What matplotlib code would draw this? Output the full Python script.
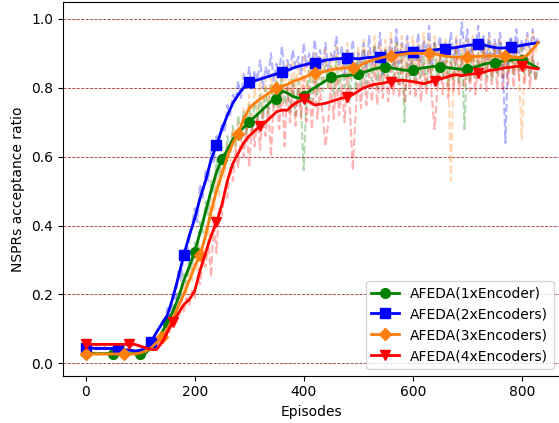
import numpy as np
import matplotlib
matplotlib.use("Agg")
import matplotlib.pyplot as plt

# smoothed curves, one point every 10 episodes (0..830)
SMOOTH_STEP = 10
green_smooth = [
    0.03, 0.029, 0.028, 0.028, 0.028, 0.028, 0.028, 0.028, 0.028, 0.028,
    0.028, 0.03, 0.045, 0.065, 0.09, 0.12, 0.15, 0.19, 0.24, 0.28,
    0.324, 0.38, 0.44, 0.50, 0.555, 0.592, 0.62, 0.65, 0.67, 0.685,
    0.70, 0.715, 0.73, 0.745, 0.76, 0.767, 0.79, 0.785, 0.775, 0.77,
    0.775, 0.79, 0.80, 0.81, 0.82, 0.83, 0.832, 0.835, 0.835, 0.838,
    0.84, 0.845, 0.85, 0.855, 0.858, 0.86, 0.858, 0.855, 0.852, 0.85,
    0.852, 0.855, 0.858, 0.86, 0.862, 0.861, 0.86, 0.857, 0.855, 0.854,
    0.854, 0.858, 0.863, 0.868, 0.872, 0.873, 0.876, 0.878, 0.88, 0.882,
    0.881, 0.875, 0.865, 0.857]
blue_smooth = [
    0.045, 0.044, 0.043, 0.043, 0.043, 0.043, 0.042, 0.04, 0.038, 0.036,
    0.037, 0.045, 0.062, 0.09, 0.115, 0.14, 0.19, 0.25, 0.314, 0.37,
    0.42, 0.48, 0.53, 0.59, 0.634, 0.68, 0.72, 0.755, 0.78, 0.80,
    0.816, 0.82, 0.825, 0.83, 0.835, 0.84, 0.847, 0.85, 0.857, 0.862,
    0.866, 0.87, 0.873, 0.876, 0.88, 0.882, 0.884, 0.885, 0.886, 0.885,
    0.884, 0.886, 0.888, 0.889, 0.89, 0.893, 0.897, 0.90, 0.902, 0.903,
    0.903, 0.905, 0.907, 0.908, 0.91, 0.912, 0.913, 0.915, 0.917, 0.92,
    0.923, 0.925, 0.927, 0.925, 0.92, 0.917, 0.915, 0.916, 0.918, 0.92,
    0.923, 0.926, 0.928, 0.931]
orange_smooth = [
    0.027, 0.027, 0.027, 0.027, 0.027, 0.027, 0.027, 0.027, 0.027, 0.027,
    0.03, 0.035, 0.045, 0.06, 0.075, 0.10, 0.13, 0.165, 0.20, 0.24,
    0.28, 0.314, 0.37, 0.44, 0.50, 0.55, 0.60, 0.64, 0.666, 0.71,
    0.74, 0.755, 0.767, 0.778, 0.788, 0.798, 0.805, 0.81, 0.818, 0.824,
    0.83, 0.836, 0.842, 0.845, 0.848, 0.852, 0.855, 0.857, 0.858, 0.858,
    0.862, 0.87, 0.877, 0.882, 0.886, 0.89, 0.892, 0.895, 0.897, 0.899,
    0.90, 0.90, 0.90, 0.90, 0.898, 0.895, 0.892, 0.89, 0.888, 0.889,
    0.89, 0.89, 0.891, 0.892, 0.893, 0.892, 0.891, 0.892, 0.89, 0.888,
    0.887, 0.895, 0.912, 0.931]
red_smooth = [
    0.055, 0.055, 0.055, 0.055, 0.055, 0.055, 0.055, 0.055, 0.055, 0.055,
    0.05, 0.045, 0.04, 0.04, 0.06, 0.09, 0.12, 0.145, 0.17, 0.185,
    0.21, 0.27, 0.32, 0.37, 0.409, 0.46, 0.53, 0.58, 0.61, 0.64,
    0.66, 0.675, 0.689, 0.70, 0.715, 0.73, 0.735, 0.735, 0.75, 0.76,
    0.766, 0.76, 0.75, 0.752, 0.755, 0.76, 0.765, 0.77, 0.772, 0.78,
    0.79, 0.80, 0.805, 0.81, 0.812, 0.815, 0.818, 0.82, 0.822, 0.82,
    0.818, 0.815, 0.812, 0.816, 0.82, 0.825, 0.83, 0.835, 0.838, 0.835,
    0.838, 0.84, 0.842, 0.845, 0.85, 0.852, 0.855, 0.858, 0.86, 0.862,
    0.863, 0.86, 0.857, 0.855]

# raw (unsmoothed) values, one point every 5 episodes (0..830)
RAW_STEP = 5
green_raw = [
    0.03, 0.025, 0.03, 0.028, 0.025, 0.03, 0.028, 0.025, 0.03, 0.028,
    0.025, 0.03, 0.028, 0.025, 0.03, 0.028, 0.025, 0.03, 0.027, 0.025,
    0.03, 0.028, 0.035, 0.04, 0.05, 0.055, 0.07, 0.065, 0.10, 0.08,
    0.14, 0.11, 0.17, 0.15, 0.21, 0.18, 0.26, 0.23, 0.30, 0.27,
    0.35, 0.31, 0.41, 0.38, 0.47, 0.43, 0.53, 0.49, 0.59, 0.54,
    0.63, 0.57, 0.66, 0.61, 0.69, 0.63, 0.72, 0.65, 0.73, 0.66,
    0.75, 0.67, 0.76, 0.70, 0.78, 0.71, 0.80, 0.72, 0.81, 0.74,
    0.82, 0.74, 0.84, 0.75, 0.80, 0.73, 0.83, 0.72, 0.82, 0.74,
    0.56, 0.77, 0.85, 0.76, 0.87, 0.78, 0.86, 0.79, 0.88, 0.80,
    0.87, 0.78, 0.89, 0.79, 0.86, 0.80, 0.90, 0.77, 0.88, 0.79,
    0.89, 0.80, 0.91, 0.81, 0.88, 0.82, 0.92, 0.80, 0.90, 0.81,
    0.91, 0.82, 0.89, 0.83, 0.93, 0.81, 0.90, 0.70, 0.91, 0.82,
    0.90, 0.81, 0.92, 0.83, 0.89, 0.80, 0.91, 0.82, 0.93, 0.81,
    0.90, 0.83, 0.92, 0.80, 0.89, 0.82, 0.91, 0.81, 0.90, 0.68,
    0.91, 0.82, 0.93, 0.83, 0.90, 0.84, 0.92, 0.83, 0.94, 0.82,
    0.92, 0.84, 0.93, 0.83, 0.91, 0.85, 0.94, 0.84, 0.92, 0.85,
    0.93, 0.84, 0.90, 0.83, 0.89, 0.82, 0.86]
blue_raw = [
    0.045, 0.04, 0.05, 0.045, 0.04, 0.045, 0.05, 0.04, 0.045, 0.04,
    0.045, 0.04, 0.04, 0.045, 0.035, 0.04, 0.035, 0.04, 0.035, 0.04,
    0.035, 0.04, 0.05, 0.06, 0.065, 0.08, 0.09, 0.10, 0.12, 0.11,
    0.16, 0.13, 0.21, 0.18, 0.27, 0.24, 0.33, 0.30, 0.36, 0.40,
    0.45, 0.41, 0.52, 0.48, 0.56, 0.53, 0.62, 0.58, 0.66, 0.64,
    0.70, 0.67, 0.75, 0.72, 0.78, 0.76, 0.82, 0.77, 0.84, 0.80,
    0.86, 0.79, 0.85, 0.82, 0.88, 0.80, 0.86, 0.83, 0.90, 0.82,
    0.87, 0.84, 0.92, 0.83, 0.88, 0.85, 0.91, 0.86, 0.89, 0.84,
    0.93, 0.86, 0.90, 0.85, 0.94, 0.87, 0.91, 0.86, 0.93, 0.85,
    0.90, 0.88, 0.95, 0.86, 0.92, 0.84, 0.91, 0.87, 0.94, 0.83,
    0.90, 0.87, 0.93, 0.85, 0.95, 0.86, 0.92, 0.88, 0.96, 0.84,
    0.91, 0.88, 0.94, 0.86, 0.97, 0.87, 0.93, 0.89, 0.95, 0.86,
    0.92, 0.88, 0.96, 0.87, 0.94, 0.89, 0.98, 0.86, 0.93, 0.90,
    0.95, 0.87, 0.93, 0.90, 0.96, 0.88, 0.94, 0.89, 0.99, 0.90,
    0.97, 0.89, 0.94, 0.91, 0.98, 0.90, 0.95, 0.88, 0.96, 0.89,
    0.94, 0.90, 0.96, 0.88, 0.64, 0.91, 0.95, 0.89, 0.97, 0.90,
    0.94, 0.91, 0.96, 0.90, 0.97, 0.92, 0.95]
orange_raw = [
    0.027, 0.025, 0.03, 0.027, 0.025, 0.028, 0.027, 0.025, 0.03, 0.027,
    0.025, 0.028, 0.027, 0.025, 0.03, 0.027, 0.025, 0.028, 0.027, 0.03,
    0.028, 0.03, 0.035, 0.04, 0.045, 0.05, 0.06, 0.055, 0.08, 0.07,
    0.11, 0.09, 0.15, 0.12, 0.19, 0.16, 0.24, 0.20, 0.28, 0.24,
    0.32, 0.27, 0.34, 0.30, 0.40, 0.35, 0.48, 0.42, 0.54, 0.48,
    0.60, 0.54, 0.64, 0.59, 0.68, 0.62, 0.70, 0.66, 0.74, 0.68,
    0.78, 0.70, 0.80, 0.73, 0.82, 0.74, 0.83, 0.75, 0.84, 0.76,
    0.85, 0.77, 0.86, 0.78, 0.87, 0.79, 0.88, 0.80, 0.87, 0.79,
    0.89, 0.80, 0.88, 0.81, 0.90, 0.79, 0.89, 0.82, 0.91, 0.80,
    0.90, 0.82, 0.92, 0.81, 0.89, 0.83, 0.93, 0.82, 0.90, 0.84,
    0.92, 0.84, 0.94, 0.85, 0.91, 0.86, 0.95, 0.84, 0.93, 0.86,
    0.94, 0.85, 0.96, 0.86, 0.93, 0.87, 0.95, 0.85, 0.94, 0.86,
    0.95, 0.86, 0.93, 0.85, 0.96, 0.87, 0.94, 0.84, 0.95, 0.86,
    0.93, 0.85, 0.94, 0.86, 0.53, 0.87, 0.95, 0.84, 0.93, 0.86,
    0.94, 0.85, 0.95, 0.84, 0.93, 0.86, 0.94, 0.85, 0.95, 0.84,
    0.93, 0.86, 0.94, 0.85, 0.92, 0.84, 0.93, 0.85, 0.94, 0.83,
    0.65, 0.86, 0.95, 0.88, 0.96, 0.90, 0.94]
red_raw = [
    0.055, 0.05, 0.06, 0.055, 0.05, 0.055, 0.06, 0.05, 0.055, 0.06,
    0.055, 0.05, 0.06, 0.055, 0.05, 0.055, 0.06, 0.05, 0.055, 0.05,
    0.05, 0.045, 0.04, 0.045, 0.04, 0.05, 0.05, 0.06, 0.07, 0.08,
    0.09, 0.11, 0.12, 0.14, 0.13, 0.16, 0.15, 0.19, 0.17, 0.21,
    0.19, 0.25, 0.23, 0.30, 0.28, 0.35, 0.25, 0.41, 0.32, 0.45,
    0.43, 0.50, 0.48, 0.57, 0.53, 0.62, 0.57, 0.66, 0.60, 0.69,
    0.57, 0.70, 0.63, 0.72, 0.62, 0.74, 0.66, 0.75, 0.60, 0.76,
    0.79, 0.68, 0.80, 0.63, 0.81, 0.70, 0.82, 0.69, 0.80, 0.71,
    0.83, 0.70, 0.81, 0.68, 0.82, 0.71, 0.80, 0.72, 0.63, 0.70,
    0.82, 0.71, 0.83, 0.72, 0.81, 0.70, 0.84, 0.73, 0.56, 0.72,
    0.85, 0.74, 0.86, 0.75, 0.84, 0.76, 0.87, 0.75, 0.86, 0.77,
    0.88, 0.76, 0.87, 0.78, 0.89, 0.77, 0.88, 0.76, 0.87, 0.78,
    0.88, 0.77, 0.89, 0.76, 0.87, 0.78, 0.90, 0.77, 0.68, 0.79,
    0.89, 0.78, 0.90, 0.77, 0.88, 0.79, 0.91, 0.78, 0.89, 0.80,
    0.90, 0.79, 0.91, 0.78, 0.89, 0.80, 0.92, 0.79, 0.90, 0.81,
    0.91, 0.80, 0.92, 0.79, 0.90, 0.81, 0.93, 0.80, 0.91, 0.82,
    0.92, 0.81, 0.90, 0.80, 0.91, 0.82, 0.88]

labels = ["AFEDA(1xEncoder)", "AFEDA(2xEncoders)", "AFEDA(3xEncoders)", "AFEDA(4xEncoders)"]
colors = ["green", "blue", "#ff7f0e", "red"]
markers = ["o", "s", "D", "v"]
mark_every = [5, 6, 7, 8]
smooth = [green_smooth, blue_smooth, orange_smooth, red_smooth]
raw = [green_raw, blue_raw, orange_raw, red_raw]

fig = plt.figure(figsize=(5.59, 4.23), dpi=100)
ax = fig.add_axes([0.1122, 0.1118, 0.891, 0.8835])

# raw curves first, faded, underneath
for r, c in zip(raw, colors):
    x = np.arange(len(r)) * RAW_STEP
    ax.plot(x, r, color=c, linestyle="--", linewidth=1.5, alpha=0.3, zorder=1)

for s, c, m, me, lab in zip(smooth, colors, markers, mark_every, labels):
    x = np.arange(len(s)) * SMOOTH_STEP
    ms = 6 if m == "D" else 7
    ax.plot(x, s, color=c, linewidth=2, marker=m, markersize=ms, markevery=me, label=lab, zorder=3)

ax.set_xlim(-42, 871.5)
ax.set_ylim(-0.036, 1.049)
ax.set_xticks([0, 200, 400, 600, 800])
ax.set_yticks([0.0, 0.2, 0.4, 0.6, 0.8, 1.0])
ax.yaxis.grid(True, color="darkred", linestyle="--", linewidth=0.6, alpha=0.8)
ax.set_axisbelow(True)
ax.set_xlabel("Episodes")
ax.set_ylabel("NSPRs acceptance ratio")
ax.legend(loc="lower right")

fig.savefig("out.png", dpi=100)
